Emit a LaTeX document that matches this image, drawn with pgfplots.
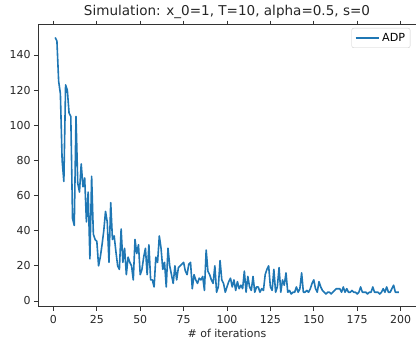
\documentclass[border=0pt]{standalone}
\usepackage{pgfplots}
\pgfplotsset{compat=1.18}
\usepackage{fontspec}
\setmainfont{DejaVu Sans}
\definecolor{mplblue}{HTML}{1F77B4}
\begin{document}
\begin{tikzpicture}
\begin{axis}[
  at={(0,0)}, anchor=south west,
  scale only axis,
  width=378bp, height=282.2bp,
  xmin=-8.9, xmax=208.9,
  ymin=-3.3, ymax=157.3,
  xtick={0,25,50,75,100,125,150,175,200},
  ytick={0,20,40,60,80,100,120,140},
  tick align=outside,
  major tick length=4bp,
  tick style={line width=0.8bp, black!80},
  axis line style={line width=0.8bp, black!80},
  tick label style={font=\fontsize{11}{12}\selectfont, text=black!85},
  /pgf/number format/assume math mode=true,
  xticklabel style={yshift=-1.5bp},
  title={Simulation: x\_0=1, T=10, alpha=0.5, s=0},
  title style={font=\fontsize{13.6}{15}\selectfont, yshift=-4bp, text=black!85},
  xlabel={\# of iterations},
  xlabel style={font=\fontsize{11}{12}\selectfont, yshift=2bp, text=black!85},
  legend style={at={(rel axis cs:0.985,0.988)}, anchor=north east,
    draw=black!20, rounded corners=2bp, fill=white, fill opacity=0.8, text opacity=1,
    font=\fontsize{11.2}{12}\selectfont, inner xsep=3bp, inner ysep=3bp},
  legend cell align=left,
  legend image post style={xscale=1.4},
]
\addplot[mplblue, line width=1.6bp, line join=round] coordinates {
(1,150)(2,148)(3,125)(4,118)(5,80)(6,68)(7,123)(8,120)(9,107)(10,105)
(11,47)(12,43)(13,105)(14,67)(15,62)(16,78)(17,65)(18,70)(19,45)(20,62)
(21,24)(22,71)(23,38)(24,35)(25,34)(26,20)(27,25)(28,32)(29,40)(30,51)
(31,45)(32,22)(33,56)(34,35)(35,37)(36,28)(37,20)(38,18)(39,41)(40,22)
(41,30)(42,15)(43,25)(44,22)(45,20)(46,12)(47,35)(48,27)(49,32)(50,15)
(51,18)(52,25)(53,30)(54,15)(55,32)(56,12)(57,12)(58,8)(59,25)(60,22)
(61,37)(62,30)(63,18)(64,22)(65,8)(66,30)(67,20)(68,15)(69,10)(70,20)
(71,12)(72,19)(73,20)(74,21)(75,22)(76,17)(77,15)(78,21)(79,22)(80,7)
(81,15)(82,12)(83,10)(84,13)(85,12)(86,14)(87,6)(88,29)(89,17)(90,15)
(91,12)(92,10)(93,20)(94,5)(95,8)(96,23)(97,12)(98,10)(99,5)(100,8)
(101,11)(102,13)(103,8)(104,12)(105,6)(106,11)(107,7)(108,9)(109,7)(110,17)
(111,5)(112,14)(113,8)(114,6)(115,14)(116,5)(117,8)(118,8)(119,5)(120,7)
(121,6)(122,15)(123,18)(124,20)(125,8)(126,6)(127,18)(128,5)(129,8)(130,19)
(131,5)(132,12)(133,9)(134,16)(135,5)(136,6)(137,4)(138,5)(139,5)(140,8)
(141,5)(142,7)(143,16)(144,5)(145,5)(146,6)(147,5)(148,7)(149,10)(150,12)
(151,7)(152,5)(153,11)(154,8)(155,6)(156,5)(157,4)(158,5)(159,5)(160,4)
(161,5)(162,6)(163,7)(164,7)(165,7)(166,5)(167,8)(168,5)(169,7)(170,5)
(171,5)(172,6)(173,5)(174,5)(175,4)(176,5)(177,8)(178,5)(179,5)(180,5)
(181,4)(182,5)(183,5)(184,8)(185,5)(186,5)(187,5)(188,4)(189,5)(190,7)
(191,5)(192,8)(193,5)(194,5)(195,7)(196,9)(197,5)(198,5)(199,5)
};
\addlegendentry{ADP}
\end{axis}
\pgfresetboundingbox
\path[use as bounding box] (-38bp,-38.2bp) rectangle (378bp,306.8bp);
\end{tikzpicture}
\end{document}
